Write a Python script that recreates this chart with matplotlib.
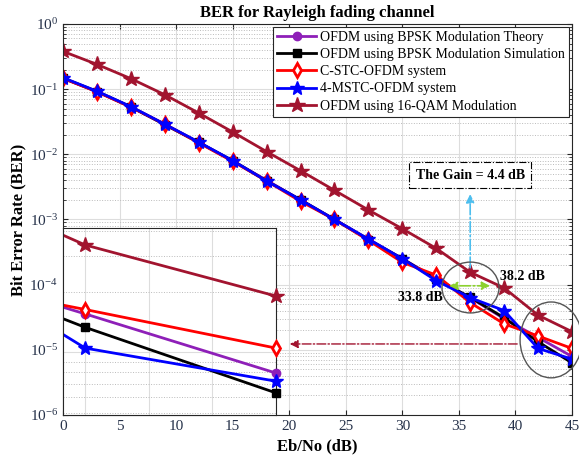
import matplotlib
matplotlib.use('Agg')
import matplotlib.pyplot as plt
from matplotlib.patches import Ellipse
from matplotlib.ticker import LogLocator, NullFormatter

plt.rcParams['font.family'] = ['Liberation Serif', 'DejaVu Serif']
plt.rcParams['mathtext.fontset'] = 'custom'
plt.rcParams['mathtext.rm'] = 'Liberation Serif'
plt.rcParams['mathtext.it'] = 'Liberation Serif:italic'
plt.rcParams['mathtext.bf'] = 'Liberation Serif:bold'

# Eb/No points (dB)
ebno = [0, 3, 6, 9, 12, 15, 18, 21, 24, 27, 30, 33, 36, 39, 42, 45]

# BER values
bpsk_theory = [0.146, 0.0918, 0.053, 0.0288, 0.0153, 0.0079, 0.0040, 0.0020,
               1.0e-3, 5.0e-4, 2.5e-4, 1.25e-4, 6.3e-5, 3.0e-5, 1.55e-5, 7.9e-6]
bpsk_sim = [0.148, 0.092, 0.0535, 0.0285, 0.0152, 0.0080, 0.0039, 0.0020,
            1.0e-3, 4.9e-4, 2.5e-4, 1.2e-4, 6.4e-5, 3.1e-5, 1.33e-5, 6.3e-6]
cstc = [0.147, 0.091, 0.053, 0.029, 0.0150, 0.0078, 0.0039, 0.0019,
        1.0e-3, 4.8e-4, 2.2e-4, 1.4e-4, 5.3e-5, 2.5e-5, 1.63e-5, 1.05e-5]
mstc = [0.150, 0.093, 0.054, 0.029, 0.0154, 0.0080, 0.0039, 0.0020,
        1.0e-3, 5.0e-4, 2.5e-4, 1.15e-4, 6.3e-5, 4.0e-5, 1.05e-5, 7.2e-6]
qam16 = [0.38, 0.24, 0.145, 0.082, 0.043, 0.022, 0.011, 0.0056,
         0.0028, 0.0014, 7.2e-4, 3.6e-4, 1.55e-4, 8.9e-5, 3.4e-5, 1.9e-5]

labels = ['OFDM using BPSK Modulation Theory',
          'OFDM using BPSK Modulation Simulation',
          'C-STC-OFDM system',
          '4-MSTC-OFDM system',
          'OFDM using 16-QAM Modulation']

purple = '#8E1FB8'
darkred = '#A2142F'
styles = [
    dict(color=purple, marker='o', ms=6, mfc=purple),
    dict(color='black', marker='s', ms=6, mfc='black'),
    dict(color='red', marker='d', ms=7, mfc='white', mew=2),
    dict(color='blue', marker='*', ms=10, mfc='blue'),
    dict(color=darkred, marker='*', ms=11.5, mfc=darkred),
]
data = [bpsk_theory, bpsk_sim, cstc, mstc, qam16]

tc = '#262626'
lc = '#26324A'
fig = plt.figure(figsize=(5.79, 4.63), dpi=100)
ax = fig.add_axes([0.1088, 0.1037, 0.8791, 0.8445])

for vals, st, lab in zip(data, styles, labels):
    ax.semilogy(ebno, vals, lw=2, label=lab, **st)

ax.set_xlim(0, 45)
ax.set_ylim(1e-6, 1)
ax.set_xticks(range(0, 46, 5))
ax.yaxis.set_major_locator(LogLocator(base=10, numticks=10))
ax.yaxis.set_minor_locator(LogLocator(base=10, subs=range(2, 10), numticks=20))
ax.yaxis.set_minor_formatter(NullFormatter())
ax.grid(True, which='major', color='#dddddd', lw=0.8)
ax.grid(True, which='minor', axis='y', color='#bbbbbb', lw=0.7, ls=':')
ax.tick_params(which='both', direction='in', top=True, right=True,
               labelsize=11, color=tc, labelcolor=lc)
ax.tick_params(which='minor', length=2)
for s in ax.spines.values():
    s.set_color(tc)
    s.set_linewidth(0.8)

ax.set_title('BER for Rayleigh fading channel', fontsize=12, fontweight='bold', pad=5)
ax.set_xlabel('Eb/No (dB)', fontsize=12, fontweight='bold')
ax.set_ylabel('Bit Error Rate (BER)', fontsize=12, fontweight='bold', labelpad=2)

leg = ax.legend(loc='upper right', bbox_to_anchor=(1, 1), borderaxespad=0.2,
                fontsize=10, fancybox=False, edgecolor=tc, framealpha=1,
                handlelength=2.8, labelspacing=0.3, borderpad=0.3,
                handletextpad=0.3)
leg.get_frame().set_linewidth(0.8)

# annotations
ax.text(36, 4.8e-3, 'The Gain = 4.4 dB', ha='center', va='center',
        fontsize=10, fontweight='bold',
        bbox=dict(boxstyle='square,pad=0.45', fc='white', ec='black', ls='-.', lw=0.8))
ax.annotate('', xy=(36, 2.7e-3), xytext=(36, 1.65e-4),
            arrowprops=dict(arrowstyle='-|>', color='#4DBEEE', lw=1.2, ls='-.',
                            mutation_scale=12))
ax.annotate('', xy=(33.9, 9.6e-5), xytext=(38.0, 9.6e-5),
            arrowprops=dict(arrowstyle='<|-|>', color='#8CD12E', lw=1.2, ls='-.',
                            mutation_scale=12))
ax.text(31.6, 6.3e-5, '33.8 dB', ha='center', va='center', fontsize=10, fontweight='bold')
ax.text(40.6, 1.32e-4, '38.2 dB', ha='center', va='center', fontsize=10, fontweight='bold')
ax.annotate('', xy=(19.8, 1.23e-5), xytext=(40.4, 1.23e-5),
            arrowprops=dict(arrowstyle='-|>', color=darkred, lw=1.0, ls='-.',
                            mutation_scale=12), zorder=10)
ax.add_patch(Ellipse((0.8006, 0.326), 0.112, 0.130, transform=ax.transAxes,
                     fill=False, ec='#555555', lw=1.0, zorder=6))
ax.add_patch(Ellipse((0.959, 0.192), 0.122, 0.194, transform=ax.transAxes,
                     fill=False, ec='#555555', lw=1.0, zorder=6, clip_on=False))

# zoomed inset
axin = fig.add_axes([0.1088, 0.1037, 0.368, 0.404])
axin.set_facecolor('white')
for vals, st, lab in zip(data, styles, labels):
    axin.semilogy(ebno, vals, lw=2, color=st['color'])
    axin.semilogy(ebno[-2:], vals[-2:], lw=0, clip_on=False, zorder=5, **st)
axin.set_xlim(41.65, 45)
axin.set_ylim(4.9e-6, 4.13e-5)
axin.set_xticks([42, 43, 44, 45])
axin.tick_params(which='both', length=0, labelbottom=False, labelleft=False)
axin.grid(True, which='major', color='#dddddd', lw=0.8)
axin.grid(True, which='minor', axis='y', color='#bbbbbb', lw=0.7, ls=':')
for s in axin.spines.values():
    s.set_color(tc)
    s.set_linewidth(0.8)

fig.savefig('out.png', dpi=100)
